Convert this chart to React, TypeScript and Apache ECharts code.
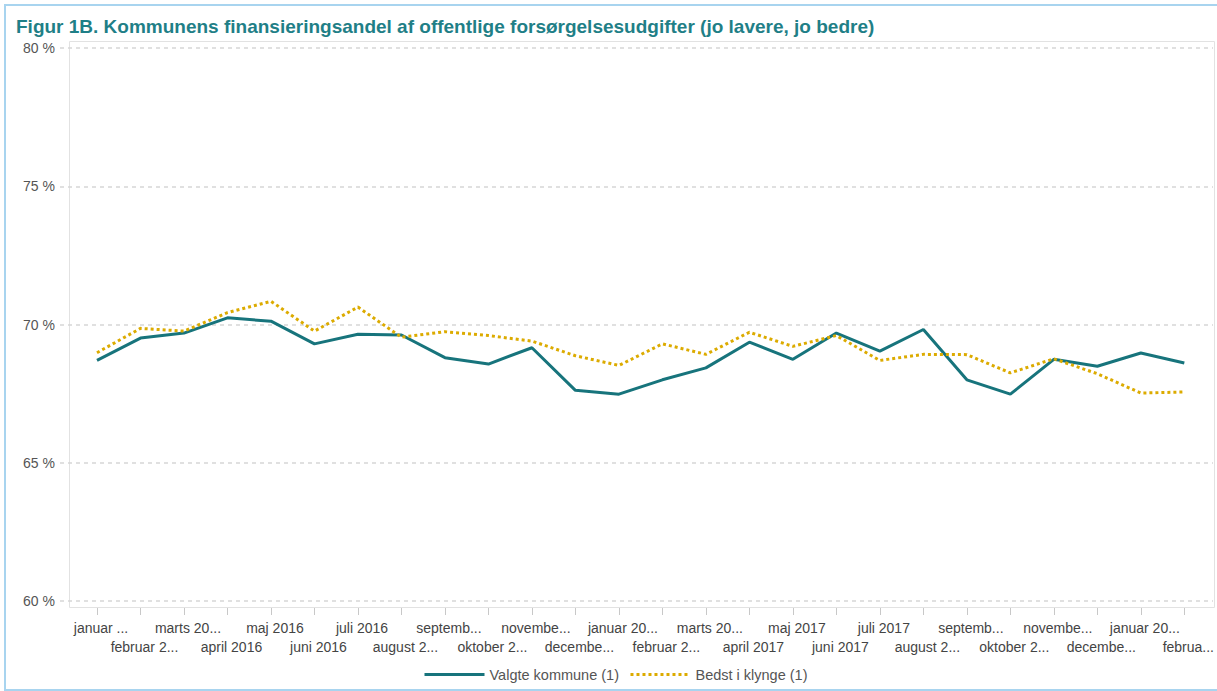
import React, { useEffect, useRef } from "react";
import * as echarts from "echarts";

const months = [
  "januar 2016", "februar 2016", "marts 2016", "april 2016", "maj 2016", "juni 2016",
  "juli 2016", "august 2016", "september 2016", "oktober 2016", "november 2016", "december 2016",
  "januar 2017", "februar 2017", "marts 2017", "april 2017", "maj 2017", "juni 2017",
  "juli 2017", "august 2017", "september 2017", "oktober 2017", "november 2017", "december 2017",
  "januar 2018", "februar 2018",
];

const tickLabels = [
  "januar ...", "februar 2...", "marts 20...", "april 2016", "maj 2016", "juni 2016",
  "juli 2016", "august 2...", "septemb...", "oktober 2...", "novembe...", "decembe...",
  "januar 20...", "februar 2...", "marts 20...", "april 2017", "maj 2017", "juni 2017",
  "juli 2017", "august 2...", "septemb...", "oktober 2...", "novembe...", "decembe...",
  "januar 20...", "februa...",
];

const valgteKommune = [
  68.7, 69.51, 69.69, 70.24, 70.12, 69.3, 69.65, 69.62, 68.8, 68.57, 69.16, 67.62,
  67.48, 68.0, 68.43, 69.36, 68.74, 69.69, 69.04, 69.82, 68.0, 67.48, 68.74, 68.49,
  68.97, 68.61,
];

const bedstIKlynge = [
  68.98, 69.86, 69.76, 70.43, 70.84, 69.76, 70.63, 69.54, 69.74, 69.6, 69.4, 68.87,
  68.52, 69.3, 68.92, 69.72, 69.21, 69.6, 68.7, 68.92, 68.91, 68.25, 68.76, 68.22,
  67.52, 67.56,
];

const yMin = 60;
const yMax = 80;
const yStep = 5;

const titleText =
  "Figur 1B. Kommunens finansieringsandel af offentlige forsørgelsesudgifter (jo lavere, jo bedre)";

const FONT = "'Liberation Sans', Arial, sans-serif";
const TEAL = "#17747c";
const GOLD = "#dcab00";

export default function App() {
  const ref = useRef<HTMLDivElement>(null);

  useEffect(() => {
    if (!ref.current) return;
    const chart = echarts.init(ref.current, null, { renderer: "svg" });
    chart.setOption({
      animation: false,
      textStyle: { fontFamily: FONT },
      title: {
        text: titleText,
        left: 16,
        top: 17,
        padding: 0,
        textStyle: { fontSize: 19, fontWeight: "bold", color: "#1f7f87", fontFamily: FONT },
      },
      graphic: [
        {
          type: "rect",
          shape: { x: 5, y: 5, width: 1214, height: 685 },
          style: { fill: "none", stroke: "#a8d4ef", lineWidth: 2 },
          silent: true,
          z: -10,
        },
        {
          type: "rect",
          shape: { x: 69.5, y: 41.5, width: 1145, height: 566 },
          style: { fill: "none", stroke: "#e2e2e2", lineWidth: 1 },
          silent: true,
          z: -9,
        },
      ],
      legend: {
        left: 423,
        top: 667,
        padding: 0,
        itemWidth: 60,
        itemHeight: 14,
        itemGap: 10,
        itemStyle: { opacity: 0 },
        lineStyle: { width: 3 },
        textStyle: { fontSize: 14.5, color: "#555", fontFamily: FONT },
        data: ["Valgte kommune (1)", "Bedst i klynge (1)"],
      },
      grid: [
        { left: 60, right: 4, top: 48, bottom: 90 },
        { left: 97, right: 31, top: 48, bottom: 90 },
      ],
      xAxis: [
        { type: "value", gridIndex: 0, show: false, min: 0, max: 1 },
        {
          type: "category",
          gridIndex: 1,
          data: months,
          boundaryGap: false,
          offset: 7,
          axisLine: { show: false },
          axisTick: { show: true, length: 7, lineStyle: { color: "#c8c8c8" }, alignWithLabel: true },
          axisLabel: {
            interval: 0,
            hideOverlap: false,
            margin: 10,
            fontSize: 14,
            lineHeight: 19,
            padding: [0, 0, 0, 8],
            color: "#444",
            fontFamily: FONT,
            formatter: (_v: string, i: number) =>
              i % 2 === 1 ? "\n" + tickLabels[i] : tickLabels[i],
          },
          splitLine: { show: false },
        },
      ],
      yAxis: [
        {
          type: "value",
          gridIndex: 0,
          min: yMin,
          max: yMax,
          interval: yStep,
          axisLine: { show: false },
          axisTick: { show: false },
          axisLabel: {
            margin: 5,
            fontSize: 14,
            color: "#555",
            fontFamily: FONT,
            formatter: (v: number) => `${v} %`,
          },
          splitLine: { show: true, lineStyle: { color: "#d6d6d6", width: 1.5, type: [4, 4] } },
        },
        {
          type: "value",
          gridIndex: 1,
          min: yMin,
          max: yMax,
          interval: yStep,
          show: false,
          splitLine: { show: false },
        },
      ],
      series: [
        {
          name: "Valgte kommune (1)",
          type: "line",
          xAxisIndex: 1,
          yAxisIndex: 1,
          data: valgteKommune,
          symbol: "none",
          lineStyle: { color: TEAL, width: 3 },
          itemStyle: { color: TEAL },
          z: 3,
        },
        {
          name: "Bedst i klynge (1)",
          type: "line",
          xAxisIndex: 1,
          yAxisIndex: 1,
          data: bedstIKlynge,
          symbol: "none",
          lineStyle: { color: GOLD, width: 3, type: [3, 3] },
          itemStyle: { color: GOLD },
          z: 4,
        },
      ],
    });
    return () => chart.dispose();
  }, []);

  return (
    <div
      ref={ref}
      style={{ position: "absolute", left: 0, top: 0, width: 1217, height: 691, background: "#fff" }}
    />
  );
}
